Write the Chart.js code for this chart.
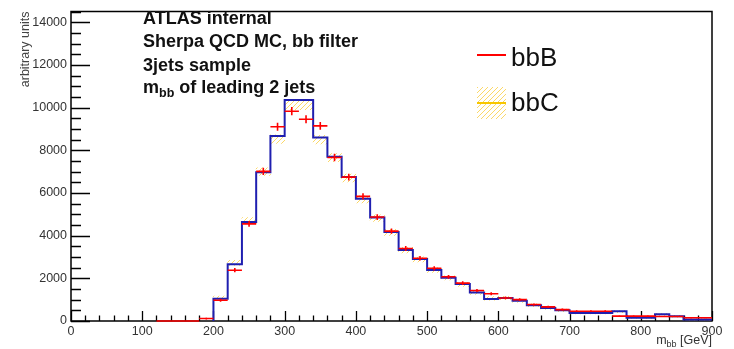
<!DOCTYPE html>
<html><head><meta charset="utf-8">
<script src="https://cdn.jsdelivr.net/npm/chart.js@4.4.1/dist/chart.umd.min.js"></script>
<style>html,body{margin:0;padding:0;background:#fff;overflow:hidden}</style>
</head><body>
<canvas id="c" width="734" height="349"></canvas>
<script>
// ---- data (bin lower edges in GeV, 20 GeV bins) ----
const binLowEdges = [120,140,160,180,200,220,240,260,280,300,320,340,360,380,400,420,440,460,480,500,520,540,560,580,600,620,640,660,680,700,720,740,760,780,800,820,840,860,880];
const binWidth = 20;
// bbB: red points with error bars
const bbBValues = [0,0,0,115, 970,2380,4550,7010,9100,9830,9450,9140,7660,6740,5840,4870,4210,3400,2940,2470,2070,1775,1430,1280,1080,1000,770,660,535,460,460,460,230,230,230,210,210,150,150];
const bbBErrors = [0,0,0,40, 70,100,135,165,185,190,185,180,170,160,150,135,125,115,105,100,90,85,75,70,65,65,55,50,45,42,42,42,30,30,30,28,28,24,24];
// blue histogram outline
const histValues = [null,null,null,null, 1046,2660,4640,6966,8670,10350,10350,8600,7700,6750,5730,4845,4175,3325,2906,2395,2030,1730,1340,1030,1080,950,735,610,500,380,380,380,455,150,150,320,220,70,70];
// bbC: yellow hatched band
const bbCValues = [null,null,null,null, 1080,2720,4700,7000,8520,10120,10120,8500,7650,6700,5700,4820,4150,3320,2890,2390,2020,1720,1340,1060,1080,950,740,610,500,390,390,390,440,160,160,310,220,80,80];
const bbCErrors = [0,0,0,0, 90,120,150,180,200,220,220,200,190,180,165,150,140,130,120,110,100,95,90,80,80,75,70,65,60,55,55,55,55,40,40,50,45,30,30];
const xRange = [0, 900];
const yRange = [0, 14500];
const xTickValues = [0,100,200,300,400,500,600,700,800,900];
const yTickValues = [0,2000,4000,6000,8000,10000,12000,14000];
const xMinorStep = 20, yMinorStep = 500;
const textLines = ["ATLAS internal", "Sherpa QCD MC, bb filter", "3jets sample"];
const legendLabels = ["bbB", "bbC"];

// ---- build datasets ----
const histPts = [];
let started = false, lastV = 0;
binLowEdges.forEach((lo, i) => {
  const v = histValues[i];
  if (v === null) return;
  if (!started) { histPts.push({x: lo, y: 0}); started = true; }
  histPts.push({x: lo, y: v}); lastV = v;
});
histPts.push({x: binLowEdges[binLowEdges.length-1] + binWidth, y: lastV});

const bandPts = [];
binLowEdges.forEach((lo, i) => {
  const v = bbCValues[i];
  if (v === null) return;
  bandPts.push({x: lo + binWidth/2, y: [v - bbCErrors[i], v + bbCErrors[i]]});
});

const hPts = [], vPts = [];
binLowEdges.forEach((lo, i) => {
  const v = bbBValues[i], e = bbBErrors[i];
  hPts.push({x: lo, y: v}, {x: lo + binWidth, y: v}, {x: lo + binWidth, y: null});
  if (e > 0) vPts.push({x: lo + binWidth/2, y: v - e}, {x: lo + binWidth/2, y: v + e}, {x: lo + binWidth/2, y: null});
});

// hatch pattern
function makeHatch() {
  const pc = document.createElement('canvas');
  pc.width = 5; pc.height = 5;
  const g = pc.getContext('2d');
  g.strokeStyle = 'rgba(250,200,40,0.7)';
  g.lineWidth = 1;
  g.beginPath(); g.moveTo(0, 5); g.lineTo(5, 0); g.stroke();
  g.beginPath(); g.moveTo(-1, 1); g.lineTo(1, -1); g.stroke();
  g.beginPath(); g.moveTo(4, 6); g.lineTo(6, 4); g.stroke();
  return g.createPattern(pc, 'repeat');
}
const hatch = makeHatch();
const FONT = '"Liberation Sans", Arial, Helvetica, sans-serif';

const framePlugin = {
  id: 'frame',
  beforeDatasetsDraw(chart) {
    const {ctx, chartArea: a, scales: {x, y}} = chart;
    ctx.save();
    ctx.strokeStyle = '#000'; ctx.lineWidth = 1.5;
    ctx.strokeRect(a.left, a.top, a.right - a.left, a.bottom - a.top);
    ctx.lineWidth = 1.3;
    ctx.beginPath();
    for (let v = xRange[0]; v <= xRange[1]; v += xMinorStep) {
      const px = Math.round(x.getPixelForValue(v)) + 0.5;
      const len = xTickValues.includes(v) ? 10 : 5.5;
      ctx.moveTo(px, a.bottom); ctx.lineTo(px, a.bottom - len);
    }
    for (let v = yRange[0]; v <= yRange[1]; v += yMinorStep) {
      const py = Math.round(y.getPixelForValue(v)) + 0.5;
      const len = yTickValues.includes(v) ? 19 : 10;
      ctx.moveTo(a.left, py); ctx.lineTo(a.left + len, py);
    }
    ctx.stroke();
    ctx.restore();
  },
  afterDraw(chart) {
    const {ctx, chartArea: a} = chart;
    ctx.save();
    ctx.fillStyle = '#111';
    ctx.textBaseline = 'alphabetic';
    ctx.textAlign = 'left';
    // annotation
    const big = 'bold 18px ' + FONT;
    ctx.font = big;
    const x0 = 143, base = [24, 47, 71, 93];
    textLines.forEach((t, i) => ctx.fillText(t, x0, base[i]));
    let cx = x0;
    ctx.fillText('m', cx, base[3]); cx += ctx.measureText('m').width;
    ctx.font = 'bold 12.5px ' + FONT;
    ctx.fillText('bb', cx, base[3] + 4); cx += ctx.measureText('bb').width;
    ctx.font = big;
    ctx.fillText(' of leading 2 jets', cx, base[3]);
    // x axis title (right aligned)
    ctx.fillStyle = '#333';
    const f1 = '12.5px ' + FONT, f2 = '9px ' + FONT;
    ctx.font = f1; const wM = ctx.measureText('m').width, wG = ctx.measureText(' [GeV]').width;
    ctx.font = f2; const wB = ctx.measureText('bb').width;
    let tx = a.right - (wM + wB + wG); const ty = 344;
    ctx.font = f1; ctx.fillText('m', tx, ty); tx += wM;
    ctx.font = f2; ctx.fillText('bb', tx, ty + 3); tx += wB;
    ctx.font = f1; ctx.fillText(' [GeV]', tx, ty);
    // legend
    ctx.strokeStyle = '#ff0000'; ctx.lineWidth = 2;
    ctx.beginPath(); ctx.moveTo(477, 55); ctx.lineTo(506, 55); ctx.stroke();
    ctx.fillStyle = hatch; ctx.fillRect(477, 87, 29, 32);
    ctx.strokeStyle = '#f7c600'; ctx.lineWidth = 2;
    ctx.beginPath(); ctx.moveTo(477, 103); ctx.lineTo(506, 103); ctx.stroke();
    ctx.fillStyle = '#111';
    ctx.font = '26px ' + FONT;
    ctx.fillText(legendLabels[0], 511, 66);
    ctx.fillText(legendLabels[1], 511, 111);
    ctx.restore();
  }
};

new Chart(document.getElementById('c'), {
  type: 'line',
  data: {
    datasets: [
      {type: 'line', label: 'bbB', data: hPts, borderColor: '#ff0000', borderWidth: 1.6, pointRadius: 0, spanGaps: false, order: 0, clip: false},
      {type: 'line', label: 'bbB err', data: vPts, borderColor: '#ff0000', borderWidth: 1.6, pointRadius: 0, spanGaps: false, order: 0, clip: false},
      {type: 'line', label: 'hist', data: histPts, borderColor: '#1f1fb0', borderWidth: 2, pointRadius: 0, stepped: 'before', order: 1, fill: false},
      {type: 'bar', label: 'bbC', data: bandPts, backgroundColor: hatch, borderWidth: 0, barPercentage: 1, categoryPercentage: 1, order: 2}
    ]
  },
  options: {
    responsive: false,
    animation: false,
    devicePixelRatio: 1,
    layout: {padding: {top: 10, right: 22, left: 0, bottom: 0}},
    plugins: {legend: {display: false}, tooltip: {enabled: false}},
    scales: {
      x: {
        type: 'linear', min: xRange[0], max: xRange[1], offset: false,
        grid: {display: false, drawTicks: false}, border: {display: false},
        afterBuildTicks: s => { s.ticks = xTickValues.map(v => ({value: v})); },
        ticks: {padding: 3, color: '#333', font: {family: FONT, size: 12.5}, maxRotation: 0, autoSkip: false, callback: v => String(v)},
        afterFit: s => { s.height = 28; }
      },
      y: {
        type: 'linear', min: yRange[0], max: yRange[1],
        grid: {display: false, drawTicks: false}, border: {display: false},
        afterBuildTicks: s => { s.ticks = yTickValues.map(v => ({value: v})); },
        ticks: {padding: 4, color: '#333', font: {family: FONT, size: 12.5}, autoSkip: false, callback: v => String(v)},
        title: {display: true, text: 'arbitrary units', align: 'end', color: '#444', font: {family: FONT, size: 12.5, lineHeight: 1.2}, padding: {top: 18, bottom: 0}},
        afterFit: s => { s.width = 71; }
      }
    }
  },
  plugins: [framePlugin]
});
</script>
</body></html>
